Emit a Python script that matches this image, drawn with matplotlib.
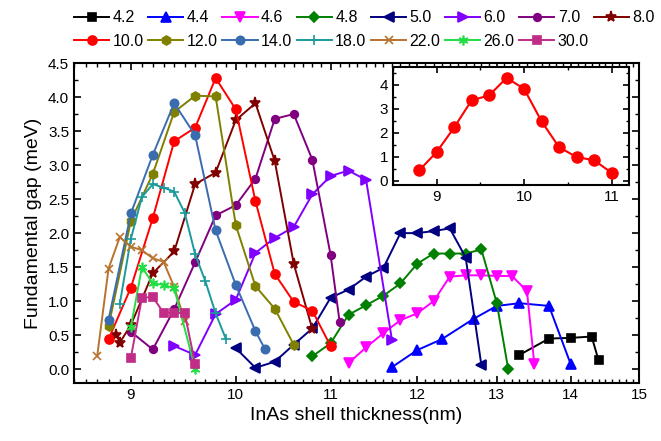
import numpy as np
import matplotlib
matplotlib.use('Agg')
import matplotlib.pyplot as plt
from matplotlib.ticker import FixedLocator, FixedFormatter, NullFormatter, MultipleLocator

plt.rcParams['font.family'] = ['Liberation Sans', 'DejaVu Sans']

# ***** datos: espesor (nm) y gap fundamental (meV) por serie
x_42 = [13.3, 13.7, 14.0, 14.3, 14.4]
y_42 = [0.21, 0.45, 0.46, 0.48, 0.13]

x_44 = [11.7, 12.0, 12.3, 12.7, 13.0, 13.3, 13.7, 14.0]
y_44 = [0.03, 0.28, 0.44, 0.74, 0.93, 0.97, 0.93, 0.08]

x_46 = [11.2, 11.4, 11.6, 11.8, 12.0, 12.2, 12.4, 12.6, 12.8, 13.0, 13.2, 13.4, 13.5]
y_46 = [0.09, 0.32, 0.53, 0.72, 0.82, 1.00, 1.36, 1.38, 1.38, 1.37, 1.37, 1.15, 0.07]

x_48 = [10.8, 11.0, 11.2, 11.4, 11.6, 11.8, 12.0, 12.2, 12.4, 12.6, 12.8, 13.0, 13.15]
y_48 = [0.19, 0.38, 0.80, 0.94, 1.08, 1.26, 1.55, 1.70, 1.70, 1.70, 1.76, 0.97, 0.00]

x_50 = [10.0, 10.2, 10.4, 10.6, 10.8, 11.0, 11.2, 11.4, 11.6, 11.8, 12.0, 12.2, 12.4, 12.6, 12.8]
y_50 = [0.31, 0.02, 0.11, 0.36, 0.60, 1.05, 1.17, 1.36, 1.49, 2.00, 2.00, 2.03, 2.07, 1.64, 0.06]

x_60 = [9.4, 9.6, 9.8, 10.0, 10.2, 10.4, 10.6, 10.8, 11.0, 11.2, 11.4, 11.7]
y_60 = [0.34, 0.21, 0.81, 1.02, 1.71, 1.93, 2.09, 2.57, 2.84, 2.92, 2.78, 0.43]

x_70 = [9.0, 9.2, 9.4, 9.6, 9.8, 10.0, 10.2, 10.4, 10.6, 10.8, 11.0, 11.1]
y_70 = [0.55, 0.29, 0.88, 1.57, 2.26, 2.41, 2.80, 3.68, 3.75, 3.08, 1.68, 0.70]

x_80 = [8.87, 8.9, 9.0, 9.2, 9.4, 9.6, 9.8, 10.0, 10.2, 10.4, 10.6, 10.8]
y_80 = [0.50, 0.39, 0.65, 1.41, 1.73, 2.72, 2.89, 3.66, 3.91, 3.06, 1.55, 0.59]

x_100 = [8.8, 9.0, 9.2, 9.4, 9.6, 9.8, 10.0, 10.2, 10.4, 10.6, 10.8, 11.0]
y_100 = [0.44, 1.20, 2.22, 3.35, 3.55, 4.28, 3.82, 2.47, 1.40, 0.99, 0.86, 0.34]

x_120 = [8.8, 9.0, 9.2, 9.4, 9.6, 9.8, 10.0, 10.2, 10.4, 10.6]
y_120 = [0.63, 2.18, 2.87, 3.78, 4.02, 4.01, 2.12, 1.22, 0.89, 0.36]

x_140 = [8.8, 9.0, 9.2, 9.4, 9.6, 9.8, 10.0, 10.2, 10.3]
y_140 = [0.73, 2.29, 3.15, 3.91, 3.44, 2.04, 1.24, 0.56, 0.29]

x_180 = [8.9, 9.0, 9.1, 9.2, 9.3, 9.4, 9.5, 9.6, 9.7, 9.8, 9.9]
y_180 = [0.96, 1.92, 2.53, 2.72, 2.67, 2.61, 2.30, 1.69, 1.29, 0.82, 0.45]

x_220 = [8.7, 8.8, 8.9, 9.0, 9.1, 9.2, 9.3, 9.4, 9.5]
y_220 = [0.19, 1.48, 1.94, 1.80, 1.75, 1.63, 1.58, 1.21, 0.71]

x_260 = [9.0, 9.1, 9.2, 9.3, 9.4, 9.6]
y_260 = [0.62, 1.50, 1.26, 1.24, 1.19, 0.01]

x_300 = [9.0, 9.1, 9.2, 9.3, 9.4, 9.5, 9.6]
y_300 = [0.17, 1.05, 1.06, 0.83, 0.83, 0.82, 0.08]

etiquetas = ['4.2', '4.4', '4.6', '4.8', '5.0', '6.0', '7.0', '8.0',
             '10.0', '12.0', '14.0', '18.0', '22.0', '26.0', '30.0']

def main():
	fig = plt.figure(figsize=(6.61, 4.41), dpi=100)
	ax = fig.add_axes([0.112, 0.132, 0.855, 0.725])

	# estilo de cada serie: (x, y, color, marcador, tamaño)
	series = [
		(x_42, y_42, 'black', 's', 6),
		(x_44, y_44, '#0000ff', '^', 6.5),
		(x_46, y_46, '#ff00ff', 'v', 6.5),
		(x_48, y_48, '#008000', 'D', 5.5),
		(x_50, y_50, '#000080', '<', 6.5),
		(x_60, y_60, '#8000ff', '>', 6.5),
		(x_70, y_70, '#800080', 'o', 5.5),
		(x_80, y_80, '#800000', '*', 8),
		(x_100, y_100, '#ff0000', 'o', 6.5),
		(x_120, y_120, '#808000', 'h', 6.5),
		(x_140, y_140, '#3a6db0', 'o', 6),
		(x_180, y_180, '#1a9a9a', '+', 7),
		(x_220, y_220, '#b8732e', 'x', 6),
		(x_260, y_260, '#22dd44', (6, 2, 0), 7),
		(x_300, y_300, '#c02c86', 's', 6),
	]

	handles = []
	for (x, y, c, m, s), lab in zip(series, etiquetas):
		h, = ax.plot(x, y, color=c, marker=m, markersize=s, linewidth=1.4,
		             markeredgewidth=1.2, label=lab)
		handles.append(h)

	# eje x logaritmico
	ax.set_xscale('log')
	ax.set_xlim(8.5, 15)
	ax.set_ylim(-0.2, 4.5)
	mayores = [9, 10, 11, 12, 13, 14, 15]
	ax.xaxis.set_major_locator(FixedLocator(mayores))
	ax.xaxis.set_major_formatter(FixedFormatter([str(v) for v in mayores]))
	menores = [round(v, 1) for v in np.arange(8.5, 15.01, 0.1)]
	ax.xaxis.set_minor_locator(FixedLocator(menores))
	ax.xaxis.set_minor_formatter(NullFormatter())
	ax.yaxis.set_major_locator(MultipleLocator(0.5))
	ax.yaxis.set_minor_locator(MultipleLocator(0.25))
	ax.yaxis.set_major_formatter(plt.FuncFormatter(lambda v, p: '%.1f' % v))

	ax.tick_params(which='both', direction='in', top=True, right=True, labelsize=11)
	ax.tick_params(which='major', length=5, width=1.2)
	ax.tick_params(which='minor', length=3, width=1)
	for sp in ax.spines.values():
		sp.set_linewidth(1.5)

	ax.set_xlabel('InAs shell thickness(nm)', fontsize=14)
	ax.set_ylabel('Fundamental gap (meV)', fontsize=14)

	# leyenda en dos filas (orden por columnas)
	orden = [0, 8, 1, 9, 2, 10, 3, 11, 4, 12, 5, 13, 6, 14, 7]
	fig.legend([handles[i] for i in orden], [etiquetas[i] for i in orden],
	           ncol=8, loc='upper left', bbox_to_anchor=(0.1, 0.995),
	           frameon=False, fontsize=11.5, handlelength=2.2,
	           handletextpad=0.2, columnspacing=0.3, labelspacing=0.55,
	           borderaxespad=0.1)

	# ***** inserto
	axi = fig.add_axes([393 / 661, 1 - 185 / 441, 236 / 661, 118 / 441])
	axi.plot(x_100, y_100, color='#ff0000', marker='o', markersize=8, linewidth=1.5)
	axi.set_xlim(8.5, 11.2)
	axi.set_ylim(-0.17, 4.73)
	axi.xaxis.set_major_locator(MultipleLocator(1))
	axi.xaxis.set_minor_locator(MultipleLocator(0.5))
	axi.yaxis.set_major_locator(MultipleLocator(1))
	axi.yaxis.set_minor_locator(MultipleLocator(0.5))
	axi.tick_params(which='both', direction='in', top=True, right=True, labelsize=11)
	axi.tick_params(which='major', length=4, width=1.2)
	axi.tick_params(which='minor', length=2.5, width=1)
	for sp in axi.spines.values():
		sp.set_linewidth(1.5)

	fig.savefig('out.png', dpi=100)

if __name__ == "__main__":
	main()
